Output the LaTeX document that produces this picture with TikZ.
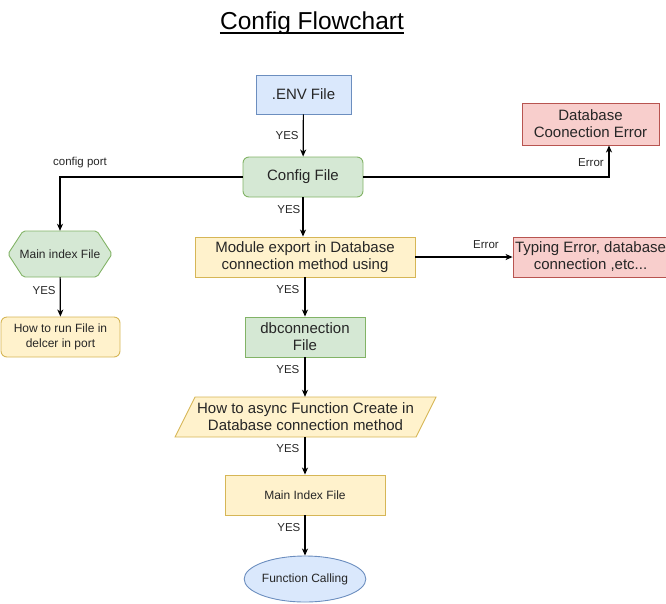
\documentclass[tikz,border=0pt]{standalone}
\usepackage{fontspec}
\setmainfont{Liberation Sans}
\usetikzlibrary{arrows.meta,shapes.geometric,calc}
\definecolor{bfill}{HTML}{DAE8FC}\definecolor{bdraw}{HTML}{6C8EBF}
\definecolor{gfill}{HTML}{D5E8D4}\definecolor{gdraw}{HTML}{82B366}
\definecolor{yfill}{HTML}{FFF2CC}\definecolor{ydraw}{HTML}{D6B656}
\definecolor{rfill}{HTML}{F8CECC}\definecolor{rdraw}{HTML}{B85450}
\definecolor{txt}{HTML}{262626}
\tikzset{
  box/.style={draw, line width=0.9pt, text=txt, inner sep=2pt, align=center, font=\fontsize{15}{17}\selectfont},
  bluebox/.style={box, fill=bfill, draw=bdraw},
  greenbox/.style={box, fill=gfill, draw=gdraw},
  yellowbox/.style={box, fill=yfill, draw=ydraw},
  redbox/.style={box, fill=rfill, draw=rdraw},
  plain/.style={draw=none, text=txt, align=center, inner sep=0pt, font=\fontsize{15}{17}\selectfont},
  conn/.style={line width=1.2pt, -{Stealth[length=7pt,width=6pt,inset=2pt]}},
  lbl/.style={font=\fontsize{11.5}{13}\selectfont, text=txt, inner sep=0pt},
}
\begin{document}
\begin{tikzpicture}[x=1pt,y=-1pt]
\useasboundingbox (0,0) rectangle (666,603);
% title
\node[font=\fontsize{24.5}{28}\selectfont, inner sep=0pt, anchor=base] (title) at (312,29) {Config Flowchart};
\draw[line width=1.3pt] ([yshift=-4pt]title.base west) -- ([yshift=-4pt]title.base east);
% main column
\node[bluebox, minimum width=95, minimum height=39] (env) at (303.5,94.5) {.ENV File};
\node[greenbox, rounded corners=6pt, minimum width=120, minimum height=40] (cfg) at (303,177) {Config File};
\node[yellowbox, minimum width=220, minimum height=40] (mod) at (305,257) {Module export in Database\\connection method using};
\node[greenbox, minimum width=120, minimum height=40] (db) at (305,337) {dbconnection\\File};
% parallelogram
\path[fill=yfill, draw=ydraw, line width=0.9pt] (195,397) -- (436,397) -- (416,437) -- (175,437) -- cycle;
\node[plain, minimum width=241, minimum height=40] (par) at (305.5,417) {How to async Function Create in\\Database connection method};
\node[yellowbox, minimum width=160, minimum height=40, font=\fontsize{12}{14}\selectfont] (mif) at (305,495) {Main Index File};
\node[ellipse, draw=bdraw, fill=bfill, line width=0.9pt, text=txt, minimum width=120, minimum height=46, inner sep=0pt, font=\fontsize{12}{14}\selectfont] (fc) at (305,579) {Function Calling};
% error boxes
\node[redbox, minimum width=137, minimum height=42] (dberr) at (590.5,124) {Database\\Coonection Error};
\node[redbox, minimum width=151, minimum height=40] (typ) at (590.5,257) {Typing Error, database\\connection ,etc...};
% left column
\path[fill=gfill, draw=gdraw, line width=0.9pt, rounded corners=2pt] (8,254) -- (23,231) -- (97,231) -- (112,254) -- (97,277) -- (23,277) -- cycle;
\node[plain, font=\fontsize{12}{14}\selectfont, minimum width=104, minimum height=46] (hex) at (60,254) {Main index File};
\node[yellowbox, rounded corners=6pt, minimum width=119, minimum height=40, font=\fontsize{12}{14.5}\selectfont] (run) at (60.5,337) {How to run File in\\delcer in port};
% connectors
\draw[conn] (env) -- (cfg) node[lbl, midway, left=4pt] {YES};
\draw[conn] (cfg) -- (mod.north -| cfg) node[lbl, pos=0.3, left=2pt] {YES};
\draw[conn] (mod.south) -- (db) node[lbl, pos=0.3, left=5pt] {YES};
\draw[conn] (db) -- (par.north -| db) node[lbl, pos=0.3, left=5pt] {YES};
\draw[conn] (par.south -| mif) -- (mif) node[lbl, pos=0.3, left=5pt] {YES};
\draw[conn] (mif) -- (fc) node[lbl, pos=0.3, left=4pt] {YES};
\draw[conn] (hex) -- (run) node[lbl, pos=0.35, left=4pt] {YES};
\draw[conn] (cfg.west) -| (hex.north);
\node[lbl] (cp) at (80,163) {config port};
\draw[conn] (cfg.east) -| (dberr.south -| 609,0);
\node[lbl] (e1) at (591,163) {Error};
\draw[conn] (mod.east) -- (typ.west);
\node[lbl] (e2) at (486,245) {Error};
\end{tikzpicture}
\end{document}
